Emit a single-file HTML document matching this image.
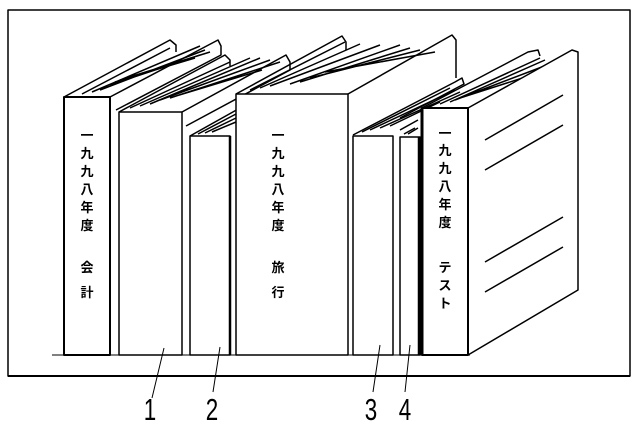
<!DOCTYPE html>
<html><head><meta charset="utf-8"><style>
html,body{margin:0;padding:0;background:#fff;}
svg{display:block}
text{font-family:"Liberation Sans","Noto Sans CJK JP",sans-serif;fill:#000}
</style></head><body>
<svg width="640" height="427" viewBox="0 0 640 427" xmlns="http://www.w3.org/2000/svg">
<g fill="none" stroke="#000" stroke-width="1.5" stroke-linejoin="round">
<path d="M8 10 L630 10 L630 376 L8 376 Z"/>
<path d="M8 376 L630 376" stroke-width="2"/>
<path d="M52 355 L470 355" stroke-width="1"/>

<path d="M64 97 L170 40 L176 45 L176 52"/>
<path d="M110 97 L218 40 L221 46 L221 55 L116 110" fill="#fff"/>
<path d="M82 94 L170 48 M92 92 L200 46 M100 90 L205 50 M110 85 L200 55 M115 82 L195 58 M120 80 L210 52"/>
<rect x="64" y="97" width="46" height="258" fill="#fff" stroke-width="2"/>

<path d="M119 112 L225 55 L230 60 L230 66"/>
<path d="M182 112 L286 55 L290 62 L290 70 L186 126" fill="#fff"/>
<path d="M130 108 L230 62 M140 106 L250 58 M150 104 L260 58 M160 100 L270 60 M170 98 L280 62 M176 96 L262 70"/>
<rect x="119" y="112" width="63" height="243" fill="#fff"/>

<path d="M190 136 L240 108 L240 120"/>
<path d="M198 134 L236 114 M205 133 L236 118 M212 132 L236 122"/>
<rect x="190" y="136" width="40" height="219" fill="#fff"/>
<path d="M230 136 L230 355" stroke-width="2.5"/>

<path d="M236 94 L342 36 L346 42 L346 50"/>
<path d="M348 94 L452 35 L456 40 L456 78"/>
<path d="M250 90 L345 42 M260 88 L360 44 M270 86 L380 45 M290 84 L400 45 M300 82 L410 48 M310 78 L420 50 M325 72 L435 52"/>
<rect x="236" y="94" width="112" height="261" fill="#fff"/>

<path d="M353 135 L455 82 L462 78 L464 84 L400 118"/>
<path d="M362 132 L450 88 M370 130 L455 90 M380 128 L460 92 M390 126 L440 102"/>
<rect x="353" y="136" width="40" height="219" fill="#fff"/>
<path d="M393 136 L393 355" stroke-width="1"/>

<path d="M404 134 L415 128 M408 134 L418 128 M400 130 L418 120"/>
<rect x="400" y="137" width="20" height="218" fill="#fff"/>
<path d="M419 137 L419 355" stroke-width="2.5"/>

<path d="M422 108 L528 52 L538 50 L540 56 M440 104 L540 58 M450 102 L545 60 M455 100 L555 62 M460 98 L560 66" />
<path d="M468 108 L572 50 L578 52 L578 290 L468 355 Z" fill="#fff"/>
<rect x="422" y="108" width="46" height="247" fill="#fff" stroke-width="2"/>
<path d="M422 108 L422 355" stroke-width="3"/>
<path d="M485 140 L563 95 M485 170 L563 125 M485 262 L563 217 M485 292 L563 247"/>

<path d="M164 348 L152 398 M220 347 L213 392 M380 345 L373 392 M410 345 L405 392" stroke-width="1"/>
</g>
<g font-size="13" font-weight="bold" text-anchor="middle">
<text x="87" y="140">一</text><text x="87" y="158">九</text><text x="87" y="176">九</text><text x="87" y="194">八</text><text x="87" y="212">年</text><text x="87" y="230">度</text><text x="87" y="272">会</text><text x="87" y="297">計</text>
<text x="278" y="140">一</text><text x="278" y="158">九</text><text x="278" y="176">九</text><text x="278" y="194">八</text><text x="278" y="212">年</text><text x="278" y="230">度</text><text x="278" y="272">旅</text><text x="278" y="297">行</text>
<text x="445" y="138">一</text><text x="445" y="155">九</text><text x="445" y="173">九</text><text x="445" y="191">八</text><text x="445" y="209">年</text><text x="445" y="227">度</text><text x="445" y="272">テ</text><text x="445" y="290">ス</text><text x="445" y="308">ト</text>
</g>
<g font-size="28" text-anchor="middle">
<text transform="translate(150,420) scale(0.8,1.1)">1</text>
<text transform="translate(212,420) scale(0.8,1.1)">2</text>
<text transform="translate(371,420) scale(0.8,1.1)">3</text>
<text transform="translate(405,420) scale(0.8,1.1)">4</text>
</g>
</svg>
</body></html>
